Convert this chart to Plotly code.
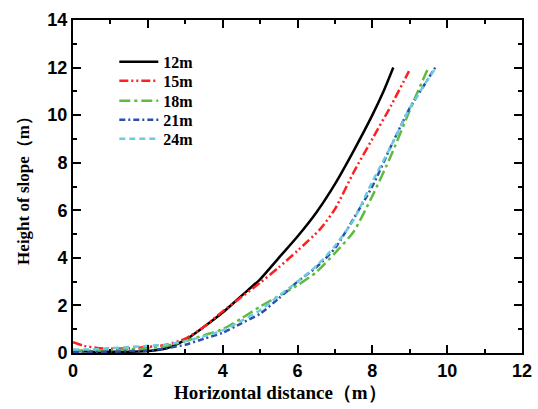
import plotly.graph_objects as go

labels = ["12m", "15m", "18m", "21m", "24m"]

x12 = [0, 0.5, 1, 1.5, 2, 2.5, 3, 3.5, 4, 4.5, 5, 5.5, 6, 6.5, 7, 7.5, 8, 8.3, 8.56]
y12 = [0.1, 0.05, 0.05, 0.05, 0.08, 0.2, 0.55, 1.1, 1.7, 2.4, 3.1, 4.0, 4.9, 5.9, 7.1, 8.5, 10.0, 11.0, 12.0]

x15 = [0, 0.3, 0.7, 1, 1.5, 2, 2.5, 3, 3.5, 4, 4.5, 5, 5.5, 6, 6.6, 7, 7.5, 8, 8.5, 8.98]
y15 = [0.45, 0.3, 0.2, 0.18, 0.2, 0.25, 0.35, 0.6, 1.1, 1.75, 2.35, 2.95, 3.6, 4.3, 5.2, 6.05, 7.6, 9.0, 10.4, 11.85]

x18 = [0, 0.5, 1, 1.5, 2, 2.5, 3, 3.5, 4, 4.5, 5, 5.5, 6, 6.5, 7, 7.5, 8, 8.5, 9, 9.3, 9.5]
y18 = [0.1, 0.1, 0.12, 0.15, 0.2, 0.3, 0.5, 0.75, 1.0, 1.45, 1.95, 2.4, 2.85, 3.4, 4.2, 5.1, 6.6, 8.3, 10.2, 11.3, 12.0]

x21 = [0, 0.5, 1, 1.5, 2, 2.5, 3, 3.5, 4, 4.5, 5, 5.5, 6, 6.5, 7, 7.5, 8, 8.5, 9, 9.4, 9.68]
y21 = [0.05, 0.05, 0.05, 0.08, 0.1, 0.2, 0.35, 0.6, 0.85, 1.25, 1.65, 2.3, 3.0, 3.6, 4.4, 5.65, 7.0, 8.7, 10.3, 11.3, 12.0]

x24 = [0, 0.5, 1, 1.5, 2, 2.5, 3, 3.5, 4, 4.5, 5, 5.5, 6, 6.5, 7, 7.5, 8, 8.5, 9, 9.4, 9.7]
y24 = [0.15, 0.15, 0.2, 0.25, 0.3, 0.35, 0.5, 0.7, 0.95, 1.35, 1.8, 2.4, 3.0, 3.65, 4.5, 5.6, 7.2, 8.7, 10.3, 11.3, 12.0]

xs = [x12, x15, x18, x21, x24]
ys = [y12, y15, y18, y21, y24]
colors = ["#000000", "#FF1F1F", "#5DBB3F", "#2B4FA8", "#6CCBE0"]
dashes = ["solid", "9px,3px,2px,3px,2px,3px", "11px,4px,3px,4px", "6px,3px,2px,3px", "6px,4px"]
legend_ids = ["legend", "legend2", "legend3", "legend4", "legend5"]
legend_rows = [0.874, 0.817, 0.757, 0.700, 0.643]

fig = go.Figure()
for lab, x, y, c, d, lg in zip(labels, xs, ys, colors, dashes, legend_ids):
    fig.add_trace(go.Scatter(x=x, y=y, mode="lines", name=lab, legend=lg, showlegend=True,
                             line=dict(color=c, width=2.5, dash=d, shape="spline", smoothing=0.6)))

axis_common = dict(
    showline=True, linewidth=2, linecolor="black", mirror="allticks",
    ticks="inside", ticklen=8, tickwidth=2, tickcolor="black",
    showgrid=False, zeroline=False, automargin=False,
    tickfont=dict(family="Liberation Sans", size=18, color="black", weight="bold"),
    minor=dict(ticks="inside", ticklen=4, tickwidth=1.5, tickcolor="black", dtick=1, showgrid=False),
)

fig.update_xaxes(range=[0, 12], dtick=2, tick0=0, **axis_common)
fig.update_yaxes(range=[0, 14], dtick=2, tick0=0,
                 title=dict(text="Height of slope（m）", standoff=13,
                            font=dict(family="Liberation Serif", size=17, color="black", weight="bold")),
                 **axis_common)

fig.add_annotation(text="Horizontal distance（m）", xref="paper", yref="paper",
                   x=0.463, y=-0.12, xanchor="center", yanchor="middle", showarrow=False,
                   font=dict(family="Liberation Serif", size=19, color="black", weight="bold"))

legend_font = dict(family="Liberation Serif", size=16, color="black", weight="bold")
legend_layout = {}
for lg, ry in zip(legend_ids, legend_rows):
    legend_layout[lg] = dict(x=0.092, y=ry, xanchor="left", yanchor="middle", itemwidth=39,
                             bgcolor="rgba(0,0,0,0)", borderwidth=0, font=legend_font)

fig.update_layout(
    width=538, height=409,
    margin=dict(l=73, r=16, t=20, b=56, autoexpand=False),
    plot_bgcolor="white", paper_bgcolor="white",
    showlegend=True,
    **legend_layout,
)

fig.write_html(
    "out.html",
    config={"displayModeBar": False},
    post_script=("document.documentElement.style.overflow='hidden';"
                 "document.body.style.overflow='hidden';"
                 "document.body.style.margin='0px';"),
)
